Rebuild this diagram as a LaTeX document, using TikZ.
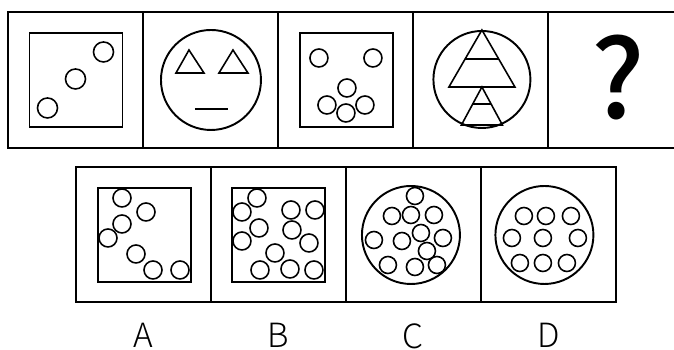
\documentclass[tikz,border=0pt]{standalone}
\usepackage{fontspec}
\setmainfont{Liberation Sans}
\newfontfamily\optfont[UprightFont={* Light}]{Noto Sans CJK SC}
\newfontfamily\markfont[UprightFont={* Medium}]{Noto Sans CJK SC}
\usetikzlibrary{positioning, calc}

\begin{document}
\begin{tikzpicture}[
    x=0.02cm, y=0.02cm,
    node distance=0pt,
    cell/.style={rectangle, draw, line width=1.1pt, outer sep=0pt, inner sep=0pt, minimum width=2.7cm, minimum height=2.72cm},
    lowcell/.style={cell, minimum height=2.7cm},
    fig/.style={line width=1.1pt},
    dot/.style={line width=0.9pt},
    opt/.style={font=\optfont\fontsize{19}{19}\selectfont, inner sep=0pt}
]
\useasboundingbox (0,0) rectangle (674,350);

% question row
\node[cell] (q1) at (75.5,270) {};
\node[cell, right=of q1] (q2) {};
\node[cell, right=of q2] (q3) {};
\node[cell, right=of q3] (q4) {};
\node[cell, right=of q4] (q5) {};

% square with three circles
\begin{scope}[shift={(q1.center)}]
    \draw[fig] (-46,-47) rectangle (47,47);
    \foreach \p in {(28,28),(0,1),(-28,-28)}
        \draw[dot] \p circle[radius=10];
\end{scope}

% face
\begin{scope}[shift={(q2.center)}]
    \draw[fig] (0.5,0) circle[radius=50];
    \draw[dot] (-21.5,30) -- (-34.5,7) -- (-6.5,7) -- cycle;
    \draw[dot] (22.5,30) -- (8.5,7) -- (37.5,7) -- cycle;
    \draw[dot] (-15.5,-29) -- (17.5,-29);
\end{scope}

% square with six circles
\begin{scope}[shift={(q3.center)}]
    \draw[fig] (-45.5,-47) rectangle (47.5,47);
    \foreach \p in {(-26.5,22),(27.5,22),(1.5,-8),(0.5,-33),(19.5,-25),(-18.5,-25)}
        \draw[dot] \p circle[radius=9];
\end{scope}

% circle with two triangles
\begin{scope}[shift={(q4.center)}]
    \draw[fig] (1.5,0.5) circle[radius=48.5];
    \draw[dot] (1.5,50) -- (-31.5,-7) -- (34.5,-7) -- cycle;
    \draw[dot] (-15,21) -- (18,21);
    \draw[dot] (1.5,-7) -- (-19,-45) -- (22,-45) -- cycle;
    \draw[dot] (-7.5,-24) -- (10.5,-24);
\end{scope}

\node[font=\markfont\fontsize{62}{62}\selectfont, inner sep=0pt] (qm) at ($(q5.center)+(2.5,3)$) {?};

% option row
\node[lowcell] (o1) at (143.5,115.5) {};
\node[lowcell, right=of o1] (o2) {};
\node[lowcell, right=of o2] (o3) {};
\node[lowcell, right=of o3] (o4) {};

\begin{scope}[shift={(o1.center)}]
    \draw[fig] (-45.5,-47.5) rectangle (47.5,46.5);
    \foreach \p in {(-21.5,36.5),(2.5,22.5),(-21.5,10.5),(-35.5,-3.5),(-7.5,-19.5),(9.5,-35.5),(36.5,-35.5)}
        \draw[dot] \p circle[radius=9];
\end{scope}

\begin{scope}[shift={(o2.center)}]
    \draw[fig] (-46.5,-47.5) rectangle (46.5,46.5);
    \foreach \p in {(-21.5,36.5),(-36.5,22.5),(12.5,24.5),(36.5,24.5),(-19.5,6.5),(13.5,4.5),
                    (-36.5,-6.5),(30.5,-8.5),(-3.5,-18.5),(-18.5,-35.5),(11.5,-34.5),(35.5,-35.5)}
        \draw[dot] \p circle[radius=9];
\end{scope}

\begin{scope}[shift={(o3.center)}]
    \draw[fig] (-2.5,-0.5) circle[radius=49];
    \foreach \p in {(1.5,38.5),(-21.5,18.5),(-2.5,19.5),(20.5,19.5),(-39.5,-5.5),(-11.5,-6.5),
                    (7.5,1.5),(29.5,-3.5),(13.5,-16.5),(-25.5,-30.5),(1.5,-32.5),(23.5,-30.5)}
        \draw[dot] \p circle[radius=8.5];
\end{scope}

\begin{scope}[shift={(o4.center)}]
    \draw[fig] (-4,-0.5) circle[radius=49];
    \foreach \p in {(-24.5,18.5),(-2.5,18.5),(22.5,18.5),(-36.5,-3.5),(-5.5,-3.5),(29.5,-3.5),
                    (-28.5,-28.5),(-5.5,-28.5),(18.5,-28.5)}
        \draw[dot] \p circle[radius=8.5];
\end{scope}

% labels
\node[opt, below=0.42cm of o1] (la) {A};
\node[opt, below=0.42cm of o2] (lb) {B};
\node[opt, below=0.42cm of o3] (lc) {C};
\node[opt, below=0.42cm of o4] (ld) {D};
\end{tikzpicture}
\end{document}
